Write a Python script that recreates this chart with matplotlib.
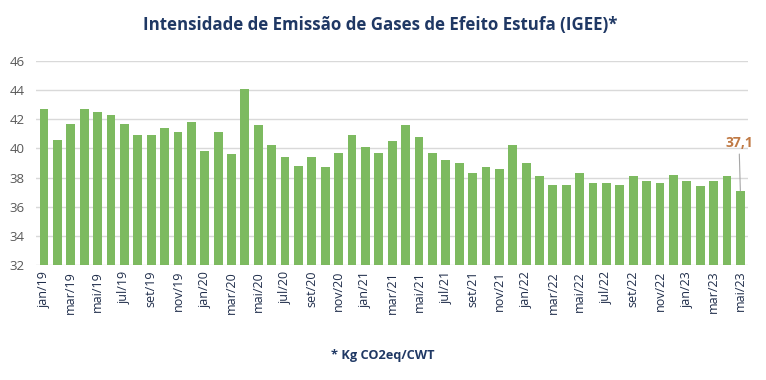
import matplotlib.pyplot as plt
import numpy as np

# meses jan/19 .. mai/23
meses = ['jan', 'fev', 'mar', 'abr', 'mai', 'jun', 'jul', 'ago', 'set', 'out', 'nov', 'dez']
anos = ['19', '20', '21', '22', '23']
labels = [f'{m}/{a}' for a in anos for m in meses][:53]

igee = [42.7, 40.6, 41.7, 42.7, 42.5, 42.3, 41.7, 40.9, 40.9, 41.4, 41.1, 41.8,
        39.8, 41.1, 39.6, 44.1, 41.6, 40.2, 39.4, 38.8, 39.4, 38.7, 39.7, 40.9,
        40.1, 39.7, 40.5, 41.6, 40.8, 39.7, 39.2, 39.0, 38.3, 38.7, 38.6, 40.2,
        39.0, 38.1, 37.5, 37.5, 38.3, 37.6, 37.6, 37.5, 38.1, 37.8, 37.6, 38.2,
        37.8, 37.4, 37.8, 38.1, 37.1]

navy = '#1F3864'

fig = plt.figure(figsize=(7.66, 3.80), dpi=100)
ax = fig.add_axes([0.047, 0.302, 0.93, 0.538])

x = np.arange(len(igee))
ax.bar(x, igee, width=0.66, color='#7DBA60', zorder=3)

ax.set_ylim(32, 46)
ax.set_yticks(range(32, 47, 2))
ax.set_xlim(-0.6, len(igee) - 0.4)
ax.set_xticks(x[::2])
ax.set_xticklabels(labels[::2], rotation=90, fontsize=9, color='#1F2D4A',
                   family='Open Sans')
ax.tick_params(axis='y', labelsize=9.5, colors='#595959', length=0, pad=8)
ax.tick_params(axis='x', length=0, pad=4)
for t in ax.get_yticklabels():
    t.set_family('Open Sans')
ax.grid(axis='y', color='#D9D9D9', linewidth=1, zorder=0)
for s in ax.spines.values():
    s.set_visible(False)

# rotulo do ultimo valor
ax.annotate('37,1', xy=(x[-1], igee[-1]), xytext=(x[-1] - 0.1, 39.9),
            ha='center', va='bottom', fontsize=10, fontweight='bold',
            color='#C07A45', family='Open Sans',
            arrowprops=dict(arrowstyle='-', color='#A6A6A6', lw=0.8,
                            shrinkA=1, shrinkB=0))

fig.text(0.497, 0.935, 'Intensidade de Emissão de Gases de Efeito Estufa (IGEE)*',
         ha='center', va='center', fontsize=12.2, fontweight='bold',
         color=navy, family='Open Sans')
fig.text(0.5, 0.065, '* Kg CO2eq/CWT', ha='center', va='center',
         fontsize=9.2, fontweight='bold', color=navy, family='Open Sans')

fig.savefig('out.png', dpi=100)
